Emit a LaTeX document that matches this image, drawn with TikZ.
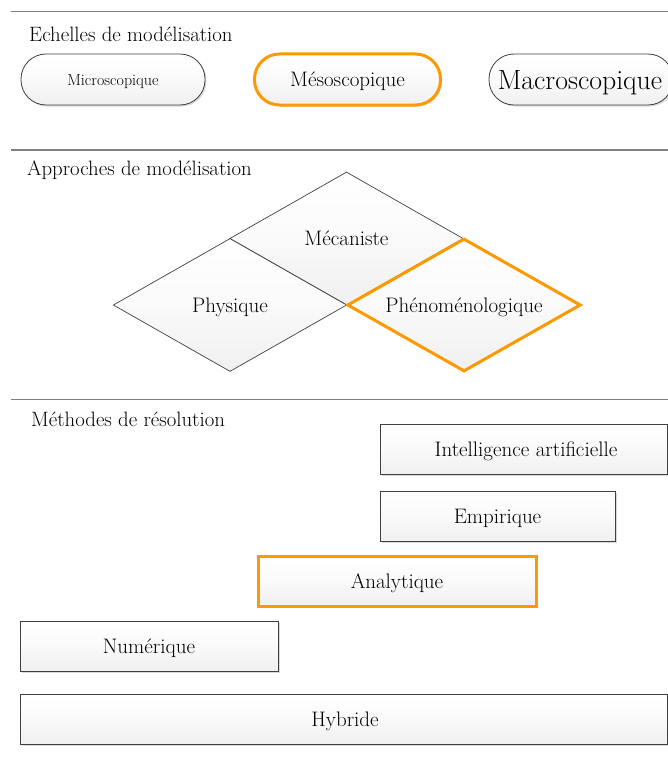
\documentclass[tikz,border=0pt]{standalone}
\usetikzlibrary{shapes.geometric,shadows}
\definecolor{hl}{HTML}{FF9900}
\definecolor{edge}{HTML}{404040}
\definecolor{rule}{HTML}{808080}
\tikzset{
  shadedfill/.style={top color=white,bottom color=black!6,middle color=black!2},
  softshadow/.style={drop shadow={shadow xshift=1.5pt,shadow yshift=-1.5pt,fill=black,opacity=0.15}},
  pill/.style={draw=edge,line width=0.8pt,shadedfill,softshadow,rectangle,rounded corners=25pt,minimum height=51pt,inner sep=0pt},
  boxr/.style={draw=edge,line width=0.9pt,shadedfill,softshadow,rectangle,minimum height=50pt,inner sep=0pt},
  rhomb/.style={draw=edge,line width=0.7pt,shadedfill,diamond,inner sep=0pt,minimum width=233.5pt,minimum height=133pt},
  hilite/.style={draw=hl,line width=3pt},
  sectitle/.style={anchor=base west,inner sep=0pt,font=\fontsize{20.8}{24}\selectfont},
  lbl/.style={font=\fontsize{21}{25}\selectfont},
  txt/.style={lbl,inner sep=0pt,anchor=base},
  hrule/.style={draw=rule,line width=1.2pt}
}
\begin{document}
\begin{tikzpicture}[x=1pt,y=-1pt]
\useasboundingbox (0,0) rectangle (668,776);
\clip (0,0) rectangle (668,776);
% rules
\coordinate (r1a) at (11,11.5); \coordinate (r1b) at (670,11.5);
\coordinate (r2a) at (11,150); \coordinate (r2b) at (670,150);
\coordinate (r3a) at (11,399.5); \coordinate (r3b) at (670,399.5);
\draw[hrule] (r1a) -- (r1b);
\draw[hrule] (r2a) -- (r2b);
\draw[hrule] (r3a) -- (r3b);
% section titles
\node[sectitle] (t1) at (29,42) {Echelles de modélisation};
\node[sectitle] (t2) at (27,175.5) {Approches de modélisation};
\node[sectitle] (t3) at (31,426) {Méthodes de résolution};
% scales
\node[pill,minimum width=184pt] (micro) at (113,79.5) {};
\node[txt,font=\fontsize{16}{19}\selectfont] (microt) at (113,85.5) {Microscopique};
\node[pill,hilite,minimum width=186pt] (meso) at (347.5,79.5) {};
\node[txt] (mesot) at (347.5,86.5) {Mésoscopique};
\node[pill,minimum width=184pt] (macro) at (581,79.5) {};
\node[txt,font=\fontsize{27.8}{32}\selectfont] (macrot) at (580,89) {Macroscopique};
% approaches
\node[rhomb] (meca) at (346.5,238.5) {};
\node[rhomb] (phys) at (230,305) {};
\node[rhomb,hilite] (pheno) at (464,305) {};
\node[txt] (mecat) at (346.5,245.5) {Mécaniste};
\node[txt] (physt) at (230,312) {Physique};
\node[txt] (phenot) at (464,312) {Phénoménologique};
% methods
\node[boxr,minimum width=287pt] (ia) at (523.5,449) {};
\node[txt] (iat) at (526,456) {Intelligence artificielle};
\node[boxr,minimum width=235pt] (emp) at (497.5,516) {};
\node[txt] (empt) at (497.5,523) {Empirique};
\node[boxr,hilite,minimum width=278pt] (ana) at (397,581) {};
\node[txt] (anat) at (397,588) {Analytique};
\node[boxr,minimum width=258pt] (num) at (149,646) {};
\node[txt] (numt) at (149,653) {Numérique};
\node[boxr,minimum width=647pt] (hyb) at (343.5,719) {};
\node[txt] (hybt) at (345,726) {Hybride};
\end{tikzpicture}
\end{document}
